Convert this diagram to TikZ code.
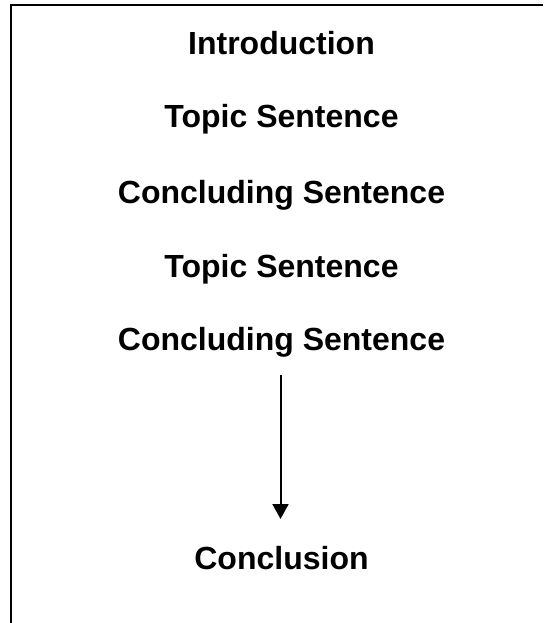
\documentclass[tikz,border=0pt]{standalone}
\usepackage{fontspec}
\setmainfont{Liberation Sans}
\usetikzlibrary{arrows.meta}
\begin{document}
\begin{tikzpicture}[x=1pt,y=-1pt,
  lbl/.style={anchor=base,inner sep=0pt,font=\fontsize{32}{38}\selectfont\bfseries},
  frame/.style={line width=2.5pt,black},
  flow/.style={line width=2pt,-{Triangle[length=15pt,width=16pt]}}]
\useasboundingbox (0,0) rectangle (543,623);
\fill[white] (0,0) rectangle (543,623);
\draw[frame] (11,623) -- (11,5) -- (543,5);
\node[lbl] (intro) at (281.5,55) {Introduction};
\node[lbl] (t1) at (281.5,128) {Topic Sentence};
\node[lbl] (c1) at (281.5,203) {Concluding Sentence};
\node[lbl] (t2) at (281.5,277) {Topic Sentence};
\node[lbl] (c2) at (281.5,350) {Concluding Sentence};
\node[lbl] (concl) at (281.5,569) {Conclusion};
\coordinate (atop) at (280.5,375);
\coordinate (atip) at (280.5,519);
\draw[flow] (atop) -- (atip);
\end{tikzpicture}
\end{document}
